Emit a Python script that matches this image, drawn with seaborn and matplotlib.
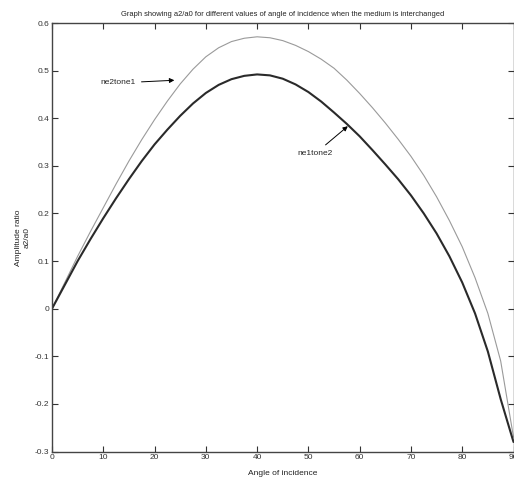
import matplotlib
matplotlib.use("Agg")
import matplotlib.pyplot as plt
import seaborn as sns
import pandas as pd
from matplotlib.ticker import FuncFormatter

# Angle of incidence (degrees) and amplitude ratio a2/a0 for the two media orderings
angle = [0, 2.5, 5, 7.5, 10, 12.5, 15, 17.5, 20, 22.5, 25, 27.5, 30, 32.5, 35, 37.5,
         40, 42.5, 45, 47.5, 50, 52.5, 55, 57.5, 60, 62.5, 65, 67.5, 70, 72.5, 75,
         77.5, 80, 82.5, 85, 87.5, 90]
ne2tone1 = [0.0, 0.055, 0.11, 0.162, 0.212, 0.262, 0.31, 0.355, 0.397, 0.436, 0.472,
            0.503, 0.529, 0.548, 0.561, 0.568, 0.571, 0.569, 0.563, 0.553, 0.54, 0.524,
            0.505, 0.48, 0.452, 0.422, 0.39, 0.356, 0.32, 0.28, 0.235, 0.185, 0.13,
            0.065, -0.01, -0.11, -0.27]
ne1tone2 = [0.0, 0.05, 0.10, 0.146, 0.19, 0.232, 0.272, 0.31, 0.345, 0.376, 0.405,
            0.431, 0.453, 0.47, 0.482, 0.489, 0.492, 0.49, 0.483, 0.471, 0.455, 0.435,
            0.412, 0.388, 0.362, 0.333, 0.303, 0.272, 0.238, 0.2, 0.158, 0.11, 0.055,
            -0.01, -0.09, -0.19, -0.28]

x_ticks = [0, 10, 20, 30, 40, 50, 60, 70, 80, 90]
y_ticks = [-0.3, -0.2, -0.1, 0, 0.1, 0.2, 0.3, 0.4, 0.5, 0.6]

df = pd.DataFrame({
    "angle": angle * 2,
    "ratio": ne2tone1 + ne1tone2,
    "case": ["ne2tone1"] * len(angle) + ["ne1tone2"] * len(angle),
})

sns.set_style("ticks")
plt.rcParams["font.family"] = ["Liberation Sans Narrow", "Liberation Sans", "DejaVu Sans"]

fig = plt.figure(figsize=(5.14, 4.8), dpi=100)
ax = fig.add_axes([52 / 514, 1 - 451.5 / 480, 461.5 / 514, 428.5 / 480])

sns.lineplot(data=df, x="angle", y="ratio", hue="case", size="case",
             palette={"ne2tone1": "#9a9a9a", "ne1tone2": "#2a2a2a"},
             sizes={"ne2tone1": 0.8, "ne1tone2": 1.5},
             legend=False, ax=ax)

ax.set_xlim(0, 90)
ax.set_ylim(-0.3, 0.6)
ax.set_xticks(x_ticks)
ax.set_yticks(y_ticks)
ax.xaxis.set_major_formatter(FuncFormatter(lambda v, p: f"{v:g}"))
ax.yaxis.set_major_formatter(FuncFormatter(lambda v, p: "0" if abs(v) < 1e-9 else f"{v:.1f}"))
ax.tick_params(direction="in", top=True, right=True, length=4, width=0.8,
               labelsize=6, colors="#333333", pad=2)
for s in ax.spines.values():
    s.set_visible(True)
    s.set_linewidth(1.0)
    s.set_color("#444444")

ax.set_title("Graph showing a2/a0 for different values of angle of incidence when the medium is interchanged",
             fontsize=5.4, pad=5, color="#222222")
ax.set_xlabel("Angle of incidence", fontsize=6, labelpad=6, color="#222222")
ax.set_ylabel("Amplitude ratio\na2/a0", fontsize=6, labelpad=3, color="#222222")

arrow = dict(arrowstyle="-|>", color="black", lw=0.7, mutation_scale=7)
ax.annotate("ne2tone1", xy=(24.4, 0.48), xytext=(9.4, 0.474), fontsize=6,
            ha="left", va="center", arrowprops=arrow)
ax.annotate("ne1tone2", xy=(58.1, 0.387), xytext=(54.8, 0.326), fontsize=6,
            ha="right", va="center", arrowprops=arrow)

fig.savefig("out.png", dpi=100)
